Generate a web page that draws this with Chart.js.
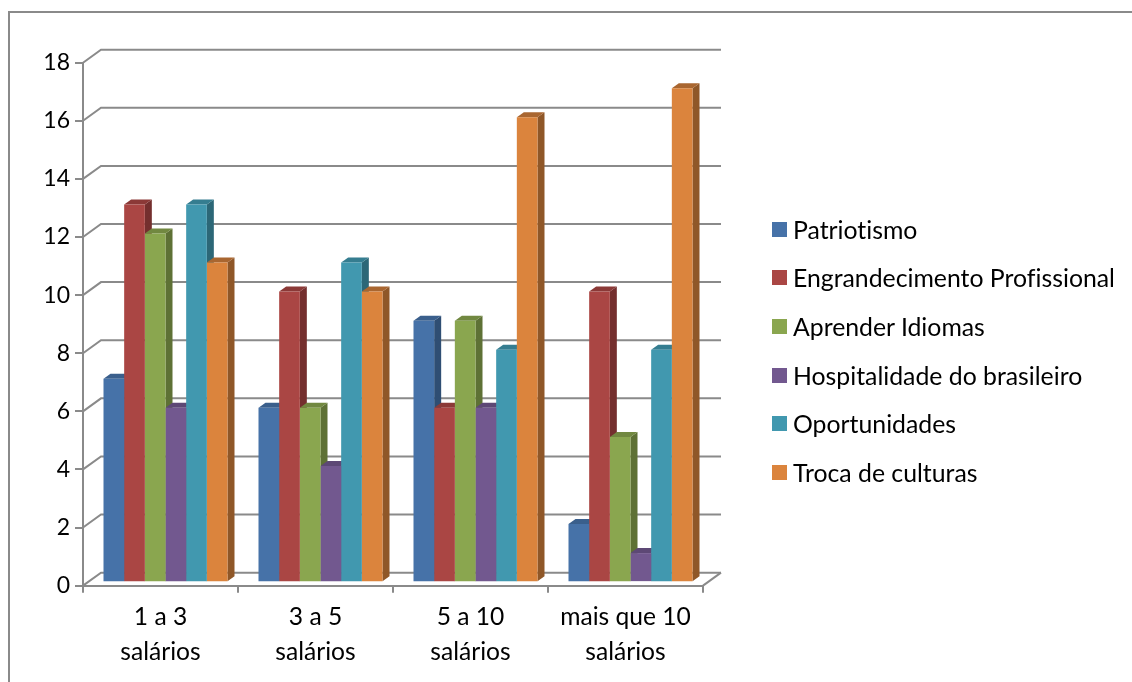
<!DOCTYPE html>
<html lang="pt">
<head>
<meta charset="utf-8">
<title>Motivos por faixa salarial</title>
<script src="https://cdn.jsdelivr.net/npm/chart.js@4/dist/chart.umd.min.js"></script>
<style>
    html, body { margin: 0; padding: 0; background: #fff; }
    #wrap { position: relative; width: 1132px; height: 682px; overflow: hidden; }
    #frame { position: absolute; left: 8px; top: 11px; width: 1200px; height: 700px;
             border: 2px solid #8a8a8a; box-sizing: border-box; }
    #legend { position: absolute; left: 772px; top: 205px; margin: 0; padding: 0; list-style: none;
              font: 24.8px Lato, sans-serif; font-variant-ligatures: none; color: #000; }
    #legend li { height: 48.6px; display: flex; align-items: center; white-space: nowrap; }
    #legend i { width: 15px; height: 15px; margin-right: 6px; }
    canvas { position: relative; display: block; }
</style>
</head>
<body>
<div id="wrap">
    <div id="frame"></div>
    <canvas id="chart" width="1132" height="682"></canvas>
    <ul id="legend"></ul>
</div>
<script>
const categories = [['1 a 3', 'salários'], ['3 a 5', 'salários'], ['5 a 10', 'salários'], ['mais que 10', 'salários']];
const patriotismo = [7, 6, 9, 2];
const engrandecimento = [13, 10, 6, 10];
const idiomas = [12, 6, 9, 5];
const hospitalidade = [6, 4, 6, 1];
const oportunidades = [13, 11, 8, 8];
const culturas = [11, 10, 16, 17];

const seriesNames = ['Patriotismo', 'Engrandecimento Profissional', 'Aprender Idiomas',
    'Hospitalidade do brasileiro', 'Oportunidades', 'Troca de culturas'];
const seriesValues = [patriotismo, engrandecimento, idiomas, hospitalidade, oportunidades, culturas];
const frontColors = ['#4672a8', '#aa4644', '#8aa64f', '#72588f', '#4198af', '#db843d'];
const sideColors = ['#2f4e73', '#742f2e', '#5e7135', '#4d3b62', '#2c6777', '#8f5728'];
const topColors = ['#3a5f8c', '#8b3937', '#718840', '#5d4875', '#357d90', '#a96630'];

const gridColor = '#8a8a8a';
const depth = { x: 18, y: -13 };      // wall offset behind the front axes
const barShift = { x: 5, y: -3.5 };   // bars stand slightly inside the floor
const barDepth = { x: 7, y: -5 };

// walls, floor edge and the depth faces of the bars, all from the chart scales
const wallPlugin = {
    id: 'wall',
    beforeDatasetsDraw(chart) {
        const { ctx, chartArea, scales } = chart;
        ctx.save();
        ctx.strokeStyle = gridColor;
        ctx.lineWidth = 2;
        scales.y.ticks.forEach((tick, i) => {
            const y = scales.y.getPixelForTick(i);
            ctx.beginPath();
            ctx.moveTo(chartArea.left, y);
            ctx.lineTo(chartArea.left + depth.x, y + depth.y);
            ctx.lineTo(chartArea.right + depth.x, y + depth.y);
            ctx.stroke();
        });
        ctx.beginPath();
        ctx.moveTo(chartArea.right, chartArea.bottom);
        ctx.lineTo(chartArea.right + depth.x, chartArea.bottom + depth.y);
        ctx.stroke();
        ctx.restore();

        // the native front faces get the same shift, restored in afterDatasetsDraw
        ctx.save();
        ctx.translate(barShift.x, barShift.y);

        // left to right, so each series hides the sides of the one before it
        seriesNames.forEach((name, i) => {
            chart.getDatasetMeta(i).data.forEach(bar => {
                const left = bar.x - bar.width / 2;
                const right = bar.x + bar.width / 2;
                ctx.fillStyle = sideColors[i];
                ctx.beginPath();
                ctx.moveTo(right, bar.y);
                ctx.lineTo(right + barDepth.x, bar.y + barDepth.y);
                ctx.lineTo(right + barDepth.x, bar.base + barDepth.y);
                ctx.lineTo(right, bar.base);
                ctx.fill();
                ctx.fillStyle = topColors[i];
                ctx.beginPath();
                ctx.moveTo(left, bar.y);
                ctx.lineTo(left + barDepth.x, bar.y + barDepth.y);
                ctx.lineTo(right + barDepth.x, bar.y + barDepth.y);
                ctx.lineTo(right, bar.y);
                ctx.fill();
            });
        });
    },
    afterDatasetsDraw(chart) {
        chart.ctx.restore();
    }
};

const chart = new Chart(document.getElementById('chart'), {
    type: 'bar',
    data: {
        labels: categories,
        datasets: seriesNames.map((name, i) => ({
            label: name,
            data: seriesValues[i],
            backgroundColor: frontColors[i],
            clip: false
        }))
    },
    options: {
        responsive: false,
        animation: false,
        layout: { padding: { left: 0, top: 62.7, right: 429, bottom: 5.5 } },
        datasets: { bar: { categoryPercentage: 0.8, barPercentage: 1 } },
        plugins: { legend: { display: false }, tooltip: { enabled: false } },
        scales: {
            x: {
                grid: { drawOnChartArea: false, color: gridColor, lineWidth: 2, tickLength: 7 },
                border: { color: gridColor, width: 2 },
                ticks: { color: '#000', maxRotation: 0, padding: 7, font: { family: 'Lato', size: 24.6, lineHeight: 1.42 } }
            },
            y: {
                min: 0,
                max: 18,
                grid: { drawOnChartArea: false, color: gridColor, lineWidth: 2, tickLength: 8 },
                border: { color: gridColor, width: 2 },
                ticks: { stepSize: 2, color: '#000', padding: 5, font: { family: 'Lato', size: 23 } },
                afterFit(scale) { scale.width = 83; }
            }
        }
    },
    plugins: [wallPlugin]
});

// legend list is built from the chart's own datasets
document.getElementById('legend').innerHTML = chart.data.datasets.map(d =>
    `<li><i style="background:${d.backgroundColor}"></i>${d.label}</li>`).join('');
</script>
</body>
</html>
